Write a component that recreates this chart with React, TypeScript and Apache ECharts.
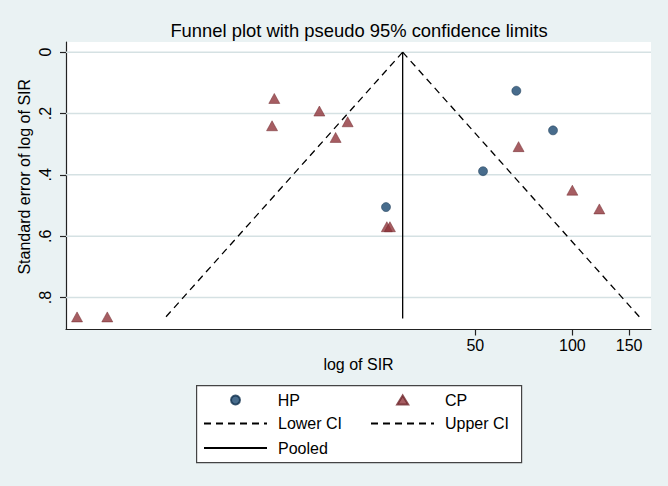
import React, { useEffect, useRef } from 'react';
import * as echarts from 'echarts';

// ---- data ----
const hpLogSIR = [4.205, 4.467, 3.967, 3.274];
const hpSE = [0.126, 0.255, 0.388, 0.505];
const cpLogSIR = [1.067, 1.283, 2.476, 2.46, 2.798, 3.0, 2.914, 3.28, 3.302, 4.221, 4.605, 4.798];
const cpSE = [0.863, 0.863, 0.151, 0.24, 0.192, 0.227, 0.278, 0.569, 0.569, 0.308, 0.45, 0.511];
const pooledLogSIR = 3.393;
const seRange = [0, 0.868];
const z95 = 1.96;
const xTickLabels = [50, 100, 150];
const yTicks = [0, 0.2, 0.4, 0.6, 0.8];
const xExtent = [0.988, 5.167];
const yExtent = [-0.033, 0.904];

const FONT = 'Liberation Sans, Arial, sans-serif';
const NAVY = '#1A476F';
const MAROON = '#90353B';
const BG = '#EAF2F3';

export default function App() {
  const ref = useRef<HTMLDivElement>(null);
  useEffect(() => {
    if (!ref.current) return;
    const chart = echarts.init(ref.current, undefined, { renderer: 'svg' });
    const hpData = hpLogSIR.map((x, i) => [x, hpSE[i]]);
    const cpData = cpLogSIR.map((x, i) => [x, cpSE[i]]);
    const lowerData = seRange.map((se) => [pooledLogSIR - z95 * se, se]);
    const upperData = seRange.map((se) => [pooledLogSIR + z95 * se, se]);
    const pooledData = seRange.map((se) => [pooledLogSIR, se]);
    const xTickVals = xTickLabels.map((v) => Math.log(v));

    const legendBase = {
      orient: 'horizontal' as const,
      padding: 0,
      itemHeight: 9,
      itemGap: 0,
      selectedMode: false,
    };
    const txt = (pad: number) => ({
      fontFamily: FONT,
      fontSize: 16,
      color: '#000',
      padding: [0, 0, 0, pad],
    });
    const lineLegend = {
      ...legendBase,
      itemWidth: 63,
      itemStyle: { opacity: 0 },
      textStyle: txt(6),
    };

    const gridSeries = yTicks.map((v, i) => ({
      name: 'grid' + i,
      type: 'line',
      data: xExtent.map((x) => [x, v]),
      symbol: 'none',
      showSymbol: false,
      silent: true,
      z: 2,
      itemStyle: { color: '#D5E1E3' },
      lineStyle: { color: '#D5E1E3', width: 1.5, type: 'solid', opacity: 1 },
    }));

    chart.setOption({
      animation: false,
      backgroundColor: BG,
      title: {
        text: 'Funnel plot with pseudo 95% confidence limits',
        left: 354,
        top: 16,
        textAlign: 'center',
        textStyle: { fontFamily: FONT, fontSize: 18.4, fontWeight: 'normal', color: '#000' },
      },
      grid: {
        left: 66,
        right: 17,
        top: 42,
        bottom: 156.5,
        show: true,
        backgroundColor: '#fff',
        borderWidth: 0,
        containLabel: false,
        outerBoundsMode: 'none',
      },
      xAxis: {
        type: 'value',
        min: xExtent[0],
        max: xExtent[1],
        name: 'log of SIR',
        nameLocation: 'middle',
        nameGap: 27,
        nameMoveOverlap: false,
        nameTextStyle: { fontFamily: FONT, fontSize: 16, color: '#000' },
        axisLine: { show: true, onZero: false, lineStyle: { color: '#222', width: 1.2 } },
        axisTick: { show: true, length: 6, customValues: xTickVals, lineStyle: { color: '#222', width: 1.2 } },
        axisLabel: {
          customValues: xTickVals,
          margin: 8,
          fontFamily: FONT,
          fontSize: 16,
          color: '#000',
          formatter: (v: number) => String(Math.round(Math.exp(v))),
        },
        splitLine: { show: false },
      },
      yAxis: {
        type: 'value',
        inverse: true,
        min: yExtent[0],
        max: yExtent[1],
        name: 'Standard error of log of SIR',
        nameLocation: 'middle',
        nameGap: 34,
        nameMoveOverlap: false,
        nameTextStyle: { fontFamily: FONT, fontSize: 16, color: '#000', padding: [0, 0, 0, 18] },
        axisLine: { show: true, onZero: false, lineStyle: { color: '#222', width: 1.2 } },
        axisTick: { show: true, length: 6, customValues: yTicks, lineStyle: { color: '#222', width: 1.2 } },
        axisLabel: {
          customValues: yTicks,
          rotate: 90,
          margin: 13,
          fontFamily: FONT,
          fontSize: 16,
          color: '#000',
          formatter: (v: number) => (v === 0 ? '0' : v.toFixed(1).replace(/^0/, '')),
        },
        splitLine: { show: false },
      },
      legend: [
        { ...legendBase, left: 230, top: 392, itemWidth: 9, textStyle: txt(32.7), data: ['HP'] },
        {
          ...legendBase,
          left: 396.2,
          top: 392,
          itemWidth: 11,
          symbolKeepAspect: false,
          textStyle: txt(31.8),
          data: ['CP'],
        },
        { ...lineLegend, left: 203, top: 415.5, data: ['Lower CI'] },
        { ...lineLegend, left: 370, top: 415.5, data: ['Upper CI'] },
        { ...lineLegend, left: 203, top: 440, data: ['Pooled'] },
      ],
      graphic: [
        {
          type: 'rect',
          left: 196,
          top: 385,
          shape: { width: 325, height: 77 },
          style: { fill: '#fff', stroke: '#444', lineWidth: 1.2 },
          z: 0,
          silent: true,
        },
      ],
      series: [
        ...gridSeries,
        {
          name: 'HP',
          type: 'scatter',
          data: hpData,
          symbol: 'circle',
          symbolSize: 9,
          itemStyle: { color: NAVY, borderColor: '#12324F', borderWidth: 0.6 },
          z: 4,
        },
        {
          name: 'CP',
          type: 'scatter',
          data: cpData,
          symbol: 'triangle',
          symbolSize: [11, 10],
          itemStyle: { color: MAROON, borderColor: '#6E262B', borderWidth: 0.6 },
          z: 4,
        },
        {
          name: 'Lower CI',
          type: 'line',
          data: lowerData,
          symbol: 'none',
          itemStyle: { color: '#000' },
          lineStyle: { color: '#000', width: 1.3, type: [7, 5] },
          z: 3,
        },
        {
          name: 'Upper CI',
          type: 'line',
          data: upperData,
          symbol: 'none',
          itemStyle: { color: '#000' },
          lineStyle: { color: '#000', width: 1.3, type: [7, 5] },
          z: 3,
        },
        {
          name: 'Pooled',
          type: 'line',
          data: pooledData,
          symbol: 'none',
          itemStyle: { color: '#000' },
          lineStyle: { color: '#000', width: 1.3, type: 'solid' },
          z: 3,
        },
      ],
    });
    return () => chart.dispose();
  }, []);
  return (
    <div
      ref={ref}
      style={{ position: 'fixed', left: 0, top: 0, width: 668, height: 486 }}
    />
  );
}
